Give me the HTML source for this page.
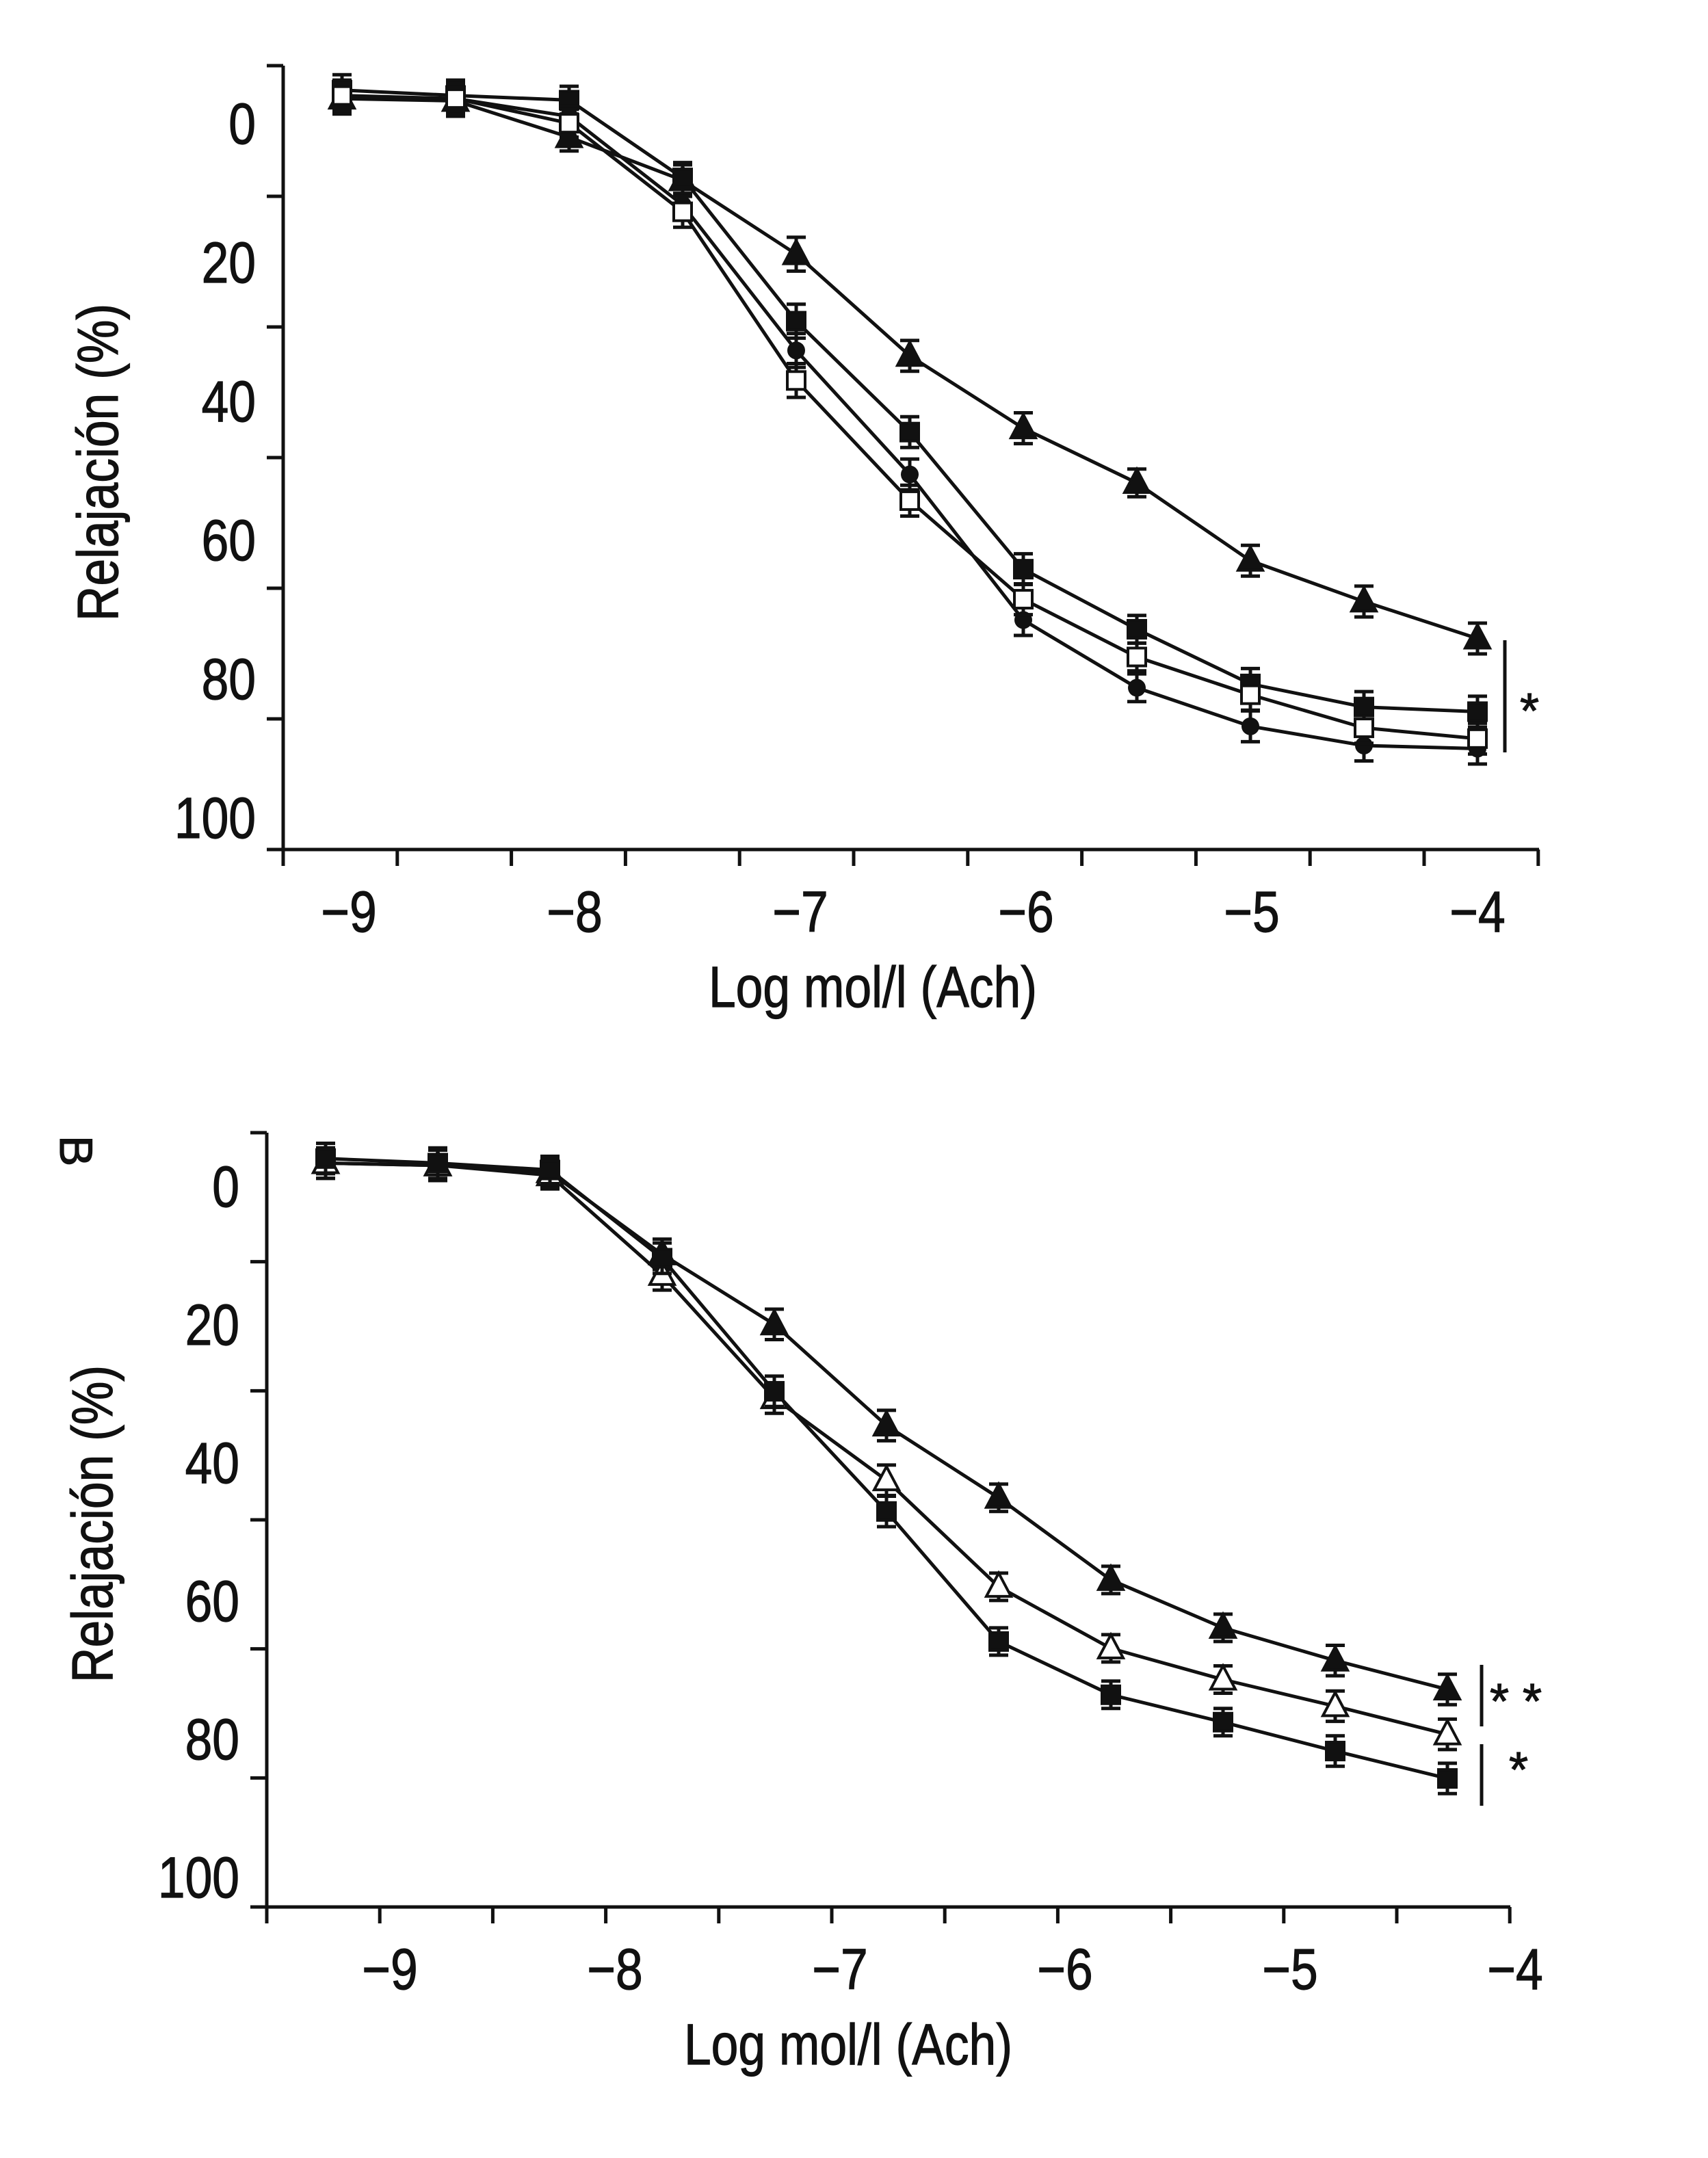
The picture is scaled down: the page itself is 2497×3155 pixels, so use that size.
<!DOCTYPE html>
<html><head><meta charset="utf-8"><style>
html,body{margin:0;padding:0;background:#fff}
svg text{font-family:"Liberation Sans Narrow","Liberation Sans",sans-serif;fill:#111;stroke:#111;stroke-width:0.6}
</style></head><body>
<svg id="chart" xmlns="http://www.w3.org/2000/svg" width="2497" height="3150" viewBox="0 0 1248.5 1575">
<rect width="1248.5" height="1575" fill="#fff"/>
</svg>
<script>
// Panel A data (x = log mol/l, y = % relaxation)
const xA = [-9,-8.5,-8,-7.5,-7,-6.5,-6,-5.5,-5,-4.5,-4];
const aTriFilled = [2.5,2.8,7.5,13.1,22.7,35.9,45.3,52.4,62.5,67.8,72.6];
const aSqFilled  = [1.4,2.1,2.7,12.8,31.4,45.8,63.6,71.4,78.5,81.5,82.1];
const aCircle    = [2.5,2.5,4.8,16.3,35.2,51.3,70.2,79.0,84.0,86.5,86.9];
const aSqOpen    = [2.1,2.5,5.7,17.2,39.1,54.7,67.5,75.0,79.9,84.2,85.6];
const aErr       = [2,2,1.8,2,2.2,2,2,1.8,2,2,2];
// Panel B data
const xB = [-9.25,-8.75,-8.25,-7.75,-7.25,-6.75,-6.25,-5.75,-5.25,-4.75,-4.25];
const bTriFilled = [2.2,2.5,3.4,14.2,23.4,36.7,46.2,57.0,63.3,67.6,71.4];
const bTriOpen   = [2.2,2.5,3.8,16.9,33.1,43.9,57.9,66.0,70.1,73.6,77.3];
const bSqFilled  = [1.6,2.2,3.1,14.7,32.2,48.0,65.1,72.1,75.7,79.5,83.1];
const bErr       = [2,2,1.8,2,2,2,1.8,1.8,1.8,2,2];
const yTickLabels = ["0","20","40","60","80","100"];
const xTickLabels = ["−9","−8","−7","−6","−5","−4"];

const svg=document.getElementById('chart');const NS='http://www.w3.org/2000/svg';
function mk(tag,attrs,parent){const e=document.createElementNS(NS,tag);for(const k in attrs)e.setAttribute(k,attrs[k]);(parent||svg).appendChild(e);return e;}

function panel(cfg){
  const g=mk('g',{});
  
  
  const sx=v=>cfg.x0+(v-cfg.xv0)*cfg.xs;
  const sy=v=>cfg.y0+v*cfg.ys;
  const ya=mk('line',{x1:cfg.ax,y1:cfg.top,x2:cfg.ax,y2:cfg.bot,stroke:'#111','stroke-width':2.5},g);
  
  const xa=mk('line',{x1:cfg.ax,y1:cfg.bot,x2:cfg.right,y2:cfg.bot,stroke:'#111','stroke-width':2.5},g);
  
  for(let i=0;i<=6;i++){const y=cfg.top+(cfg.bot-cfg.top)*i/6;mk('line',{x1:cfg.ax-12,y1:y,x2:cfg.ax,y2:y,stroke:'#111','stroke-width':2.5},g);}
  const n=Math.round((cfg.right-cfg.ax)/cfg.xtickStep);
  for(let i=0;i<=n;i++){const x=cfg.ax+i*cfg.xtickStep;mk('line',{x1:x,y1:cfg.bot,x2:x,y2:cfg.bot+12,stroke:'#111','stroke-width':2.5},g);}
  yTickLabels.forEach((t,i)=>{const e=mk('text',{x:cfg.ax-20,y:cfg.ylab0+i*cfg.ylabStep,'text-anchor':'end','font-size':42,transform:`translate(${cfg.ax-20} 0) scale(0.85 1) translate(${-(cfg.ax-20)} 0)`},g);e.textContent=t;
    });
  xTickLabels.forEach((t,i)=>{const x=cfg.xlab0+i*cfg.xlabStep;const e=mk('text',{x:x,y:cfg.bot+60,'text-anchor':'middle','font-size':42,transform:`translate(${x} 0) scale(0.85 1) translate(${-x} 0)`},g);e.textContent=t;
    });
  const xt=mk('text',{x:cfg.xtitleX,y:cfg.bot+115,'text-anchor':'middle','font-size':42,transform:`translate(${cfg.xtitleX} 0) scale(0.85 1) translate(${-cfg.xtitleX} 0)`},g);xt.textContent='Log mol/l (Ach)';
  
  const yt=mk('text',{x:0,y:0,'text-anchor':'middle','font-size':42,transform:`translate(${cfg.ytitleX} ${cfg.ytitleY}) rotate(-90) scale(0.85 1)`},g);yt.textContent='Relajación (%)';
  
  cfg.series.forEach(s=>{
    const sg=mk('g',{},g);
    
    
    const pts=s.vals.map((v,i)=>[sx(cfg.xv[i]),sy(v)]);
    mk('polyline',{points:pts.map(p=>p.join(',')).join(' '),fill:'none',stroke:'#111','stroke-width':2.5},sg);
    pts.forEach((p,i)=>{
      const e=cfg.err[i]*cfg.ys;
      mk('line',{x1:p[0],y1:p[1]-e,x2:p[0],y2:p[1]+e,stroke:'#111','stroke-width':2.5},sg);
      mk('line',{x1:p[0]-7,y1:p[1]-e,x2:p[0]+7,y2:p[1]-e,stroke:'#111','stroke-width':2.5},sg);
      mk('line',{x1:p[0]-7,y1:p[1]+e,x2:p[0]+7,y2:p[1]+e,stroke:'#111','stroke-width':2.5},sg);
      let m;const [x,y]=p;
      if(s.shape==='tri')m=mk('polygon',{points:`${x},${y-10} ${x-9},${y+7} ${x+9},${y+7}`,fill:s.fill?'#111':'#fff',stroke:'#111','stroke-width':2},sg);
      else if(s.shape==='sq')m=mk('rect',{x:x-6.5,y:y-6.5,width:13,height:13,fill:s.fill?'#111':'#fff',stroke:'#111','stroke-width':2},sg);
      else m=mk('circle',{cx:x,cy:y,r:6.5,fill:'#111'},sg);
      
    });
  });
}

panel({name:'panel-a',ax:207,top:48,bot:621,right:1125,xtickStep:83.4,
  x0:250,xv0:-9,xs:166,y0:58,ys:5.63,xv:xA,err:aErr,
  ylab0:105,ylabStep:101.5,xlab0:255,xlabStep:165,xtitleX:638,ytitleX:86,ytitleY:338,
  series:[{name:'series-a-filled-triangle',vals:aTriFilled,shape:'tri',fill:true},
          {name:'series-a-filled-square',vals:aSqFilled,shape:'sq',fill:true},
          {name:'series-a-filled-circle',vals:aCircle,shape:'circ',fill:true},
          {name:'series-a-open-square',vals:aSqOpen,shape:'sq',fill:false}]});
panel({name:'panel-b',ax:195,top:828,bot:1394,right:1104,xtickStep:82.6,
  x0:279,xv0:-9,xs:164,y0:838,ys:5.56,xv:xB,err:bErr,
  ylab0:882,ylabStep:101,xlab0:285,xlabStep:164.5,xtitleX:620,ytitleX:82,ytitleY:1114,
  series:[{name:'series-b-filled-triangle',vals:bTriFilled,shape:'tri',fill:true},
          {name:'series-b-open-triangle',vals:bTriOpen,shape:'tri',fill:false},
          {name:'series-b-filled-square',vals:bSqFilled,shape:'sq',fill:true}]});

[[1100,468,550],[1083,1217,1262],[1083,1275,1320]].forEach(a=>{const l=mk('line',{x1:a[0],y1:a[1],x2:a[0],y2:a[2],stroke:'#111','stroke-width':2.5});
  });
[[1118,532,'*'],[1108,1256,'* *'],[1110,1306,'*']].forEach(a=>{const t=mk('text',{x:a[0],y:a[1],'text-anchor':'middle','font-size':36});t.textContent=a[2];
  });
const pl=mk('text',{x:0,y:0,'font-size':34,transform:'translate(44 830) rotate(90)'});pl.textContent='B';

</script>
</body></html>
